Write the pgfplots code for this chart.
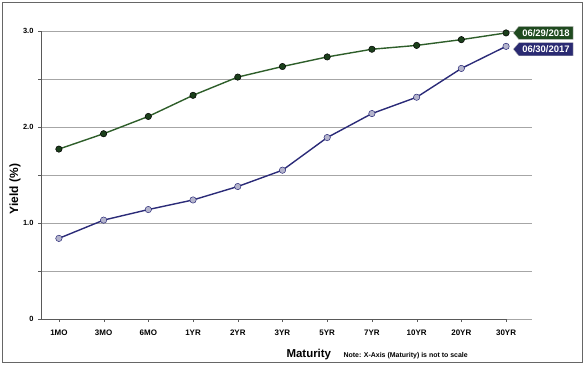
\documentclass[border=0pt]{standalone}
\usepackage{pgfplots}
\pgfplotsset{compat=1.18}
\usepackage{fontspec}
\setmainfont{Liberation Sans}
\usetikzlibrary{shapes.symbols}
\definecolor{gline}{HTML}{2E5E2A}
\definecolor{gmark}{HTML}{1B3F1B}
\definecolor{bline}{HTML}{2B2B78}
\definecolor{bmark}{HTML}{B4B4CC}
\definecolor{gbox}{HTML}{1F4A1F}
\definecolor{bbox}{HTML}{2A2A72}
\begin{document}
\begin{tikzpicture}
\path (-41bp,-49bp) rectangle (547bp,319bp);
\draw[gray!80!black, line width=0.8bp] (-39bp,-43bp) rectangle (541bp,317bp);
\begin{axis}[
  at={(0,0)}, anchor=south west,
  scale only axis, width=491bp, height=288bp,
  xmin=-0.4, xmax=10.58, ymin=0, ymax=3,
  axis x line=bottom, axis y line=left,
  axis line style={-, gray!70!black},
  x axis line style={draw=none},
  xtick={0,...,10},
  xticklabels={1MO,3MO,6MO,1YR,2YR,3YR,5YR,7YR,10YR,20YR,30YR},
  ytick={0,0.5,1,1.5,2,2.5,3},
  yticklabels={0,,1.0,,2.0,,3.0},
  ymajorgrids, grid style={gray!70, line width=0.6bp},
  tick style={gray!70!black},
  major tick length=3bp,
  tick align=outside,
  /pgf/number format/assume math mode=true,
  yticklabel style={font=\bfseries\fontsize{7.5}{8}\selectfont, xshift=-1bp},
  xticklabel style={font=\bfseries\fontsize{8}{9}\selectfont, yshift=-4bp},
  clip=false,
]
\addplot[gline, line width=1.4bp, mark=*, mark size=3.2bp, mark options={fill=gmark, draw=black, line width=0.5bp}] coordinates {
(0,1.77) (1,1.93) (2,2.11) (3,2.33) (4,2.52) (5,2.63) (6,2.73) (7,2.81) (8,2.85) (9,2.91) (10,2.98)};
\addplot[bline, line width=1.4bp, mark=*, mark size=3.2bp, mark options={fill=bmark, draw=bline, line width=0.5bp}] coordinates {
(0,0.84) (1,1.03) (2,1.14) (3,1.24) (4,1.38) (5,1.55) (6,1.89) (7,2.14) (8,2.31) (9,2.61) (10,2.84)};
\draw[gray!70!black] (axis cs:-0.4,0) -- (axis cs:10,0);
\node[signal, signal to=west, signal pointer angle=100, fill=gbox, draw=gray!50, text=white, font=\bfseries\fontsize{9.5}{10}\selectfont, inner xsep=3.5bp, inner ysep=3bp, anchor=west] at ([xshift=7bp]axis cs:10,2.98) {06/29/2018};
\node[signal, signal to=west, signal pointer angle=100, fill=bbox, draw=gray!50, text=white, font=\bfseries\fontsize{9.5}{10}\selectfont, inner xsep=3.5bp, inner ysep=3bp, anchor=west] at ([xshift=7bp]axis cs:10,2.81) {06/30/2017};
\end{axis}
\node[rotate=90, font=\bfseries\fontsize{12}{14}\selectfont] at (-26bp,130bp) {Yield (\%)};
\node[font=\bfseries\fontsize{11.5}{13}\selectfont, anchor=base west] at (242bp,-38bp) {Maturity};
\node[font=\bfseries\fontsize{7}{8}\selectfont, anchor=base west] at (299bp,-38bp) {Note: X-Axis (Maturity) is not to scale};
\end{tikzpicture}
\end{document}
